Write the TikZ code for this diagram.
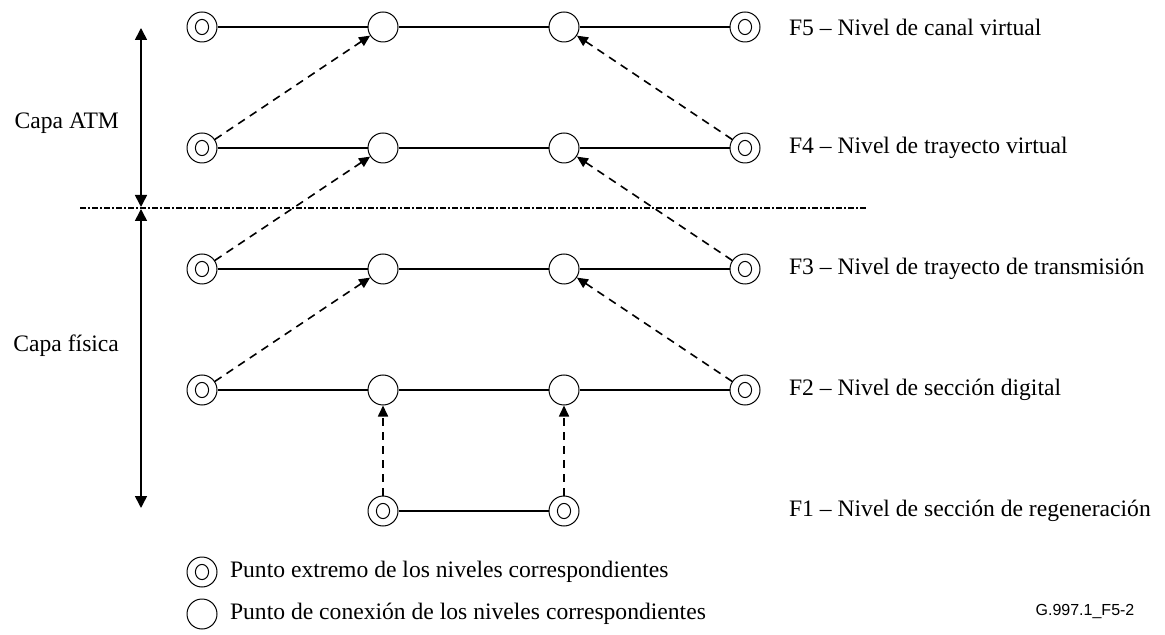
\documentclass[tikz,border=0pt]{standalone}
\usepackage{fontspec}
\setmainfont{Liberation Serif}
\setsansfont{Liberation Sans}
\usepackage{tikz}
\usetikzlibrary{arrows.meta}

\begin{document}
\begin{tikzpicture}[x=0.5pt, y=-0.5pt, font=\fontsize{11.8}{14}\selectfont,
    endpoint/.style={circle, draw, line width=0.5pt, minimum size=15pt, inner sep=0pt,
        path picture={\draw[line width=0.5pt] (path picture bounding box.center) ellipse (3.3pt and 3.8pt);}},
    connpoint/.style={circle, draw, line width=0.5pt, minimum size=15pt, inner sep=0pt},
    layerline/.style={line width=1pt},
    relay/.style={line width=0.8pt, dash pattern=on 4pt off 3pt, -{Triangle[length=5.5pt, width=5pt]}},
    span/.style={line width=0.8pt, {Triangle[length=6pt, width=6pt]}-{Triangle[length=6pt, width=6pt]}},
    levelname/.style={anchor=west}]
    \useasboundingbox (0,0) rectangle (1165,635);

    % F5 level
    \node[endpoint] (fiveL) at (202,27) {};
    \node[connpoint] (fiveA) at (383,27) {};
    \node[connpoint] (fiveB) at (564,27) {};
    \node[endpoint] (fiveR) at (745,27) {};
    \draw[layerline] (fiveL) -- (fiveA) -- (fiveB) -- (fiveR);
    \node[levelname] (fivetext) at (782,27) {F5 – Nivel de canal virtual};

    % F4 level
    \node[endpoint] (fourL) at (202,148) {};
    \node[connpoint] (fourA) at (383,148) {};
    \node[connpoint] (fourB) at (564,148) {};
    \node[endpoint] (fourR) at (745,148) {};
    \draw[layerline] (fourL) -- (fourA) -- (fourB) -- (fourR);
    \node[levelname] (fourtext) at (782,148) {F4 – Nivel de trayecto virtual};

    % F3 level
    \node[endpoint] (threeL) at (202,269) {};
    \node[connpoint] (threeA) at (383,269) {};
    \node[connpoint] (threeB) at (564,269) {};
    \node[endpoint] (threeR) at (745,269) {};
    \draw[layerline] (threeL) -- (threeA) -- (threeB) -- (threeR);
    \node[levelname] (threetext) at (782,269) {F3 – Nivel de trayecto de transmisión};

    % F2 level
    \node[endpoint] (twoL) at (202,390) {};
    \node[connpoint] (twoA) at (383,390) {};
    \node[connpoint] (twoB) at (564,390) {};
    \node[endpoint] (twoR) at (745,390) {};
    \draw[layerline] (twoL) -- (twoA) -- (twoB) -- (twoR);
    \node[levelname] (twotext) at (782,390) {F2 – Nivel de sección digital};

    % F1 level
    \node[endpoint] (oneL) at (383,511) {};
    \node[endpoint] (oneR) at (564,511) {};
    \draw[layerline] (oneL) -- (oneR);
    \node[levelname] (onetext) at (782,511) {F1 – Nivel de sección de regeneración};

    % relations between levels
    \draw[relay] (fourL) -- (fiveA);
    \draw[relay] (fourR) -- (fiveB);
    \draw[relay] (threeL) -- (fourA);
    \draw[relay] (threeR) -- (fourB);
    \draw[relay] (twoL) -- (threeA);
    \draw[relay] (twoR) -- (threeB);
    \draw[relay] (oneL) -- (twoA);
    \draw[relay] (oneR) -- (twoB);

    % layers
    \coordinate (sepL) at (80,208);
    \coordinate (sepR) at (868,208);
    \draw[line width=0.7pt, dash pattern=on 3pt off 1pt on 1pt off 1pt] (sepL) -- (sepR);
    \coordinate (atmtop) at (141,28);
    \coordinate (atmbot) at (141,207);
    \coordinate (phytop) at (141,209);
    \coordinate (phybot) at (141,508);
    \draw[span] (atmtop) -- (atmbot);
    \draw[span] (phytop) -- (phybot);
    \node[anchor=east] (atm) at (126,123) {Capa ATM};
    \node[anchor=east] (phy) at (126,346) {Capa física};

    % legend
    \node[endpoint] (keyend) at (202,572) {};
    \node[levelname] (keyendtext) at (223,572) {Punto extremo de los niveles correspondientes};
    \node[connpoint] (keyconn) at (202,614) {};
    \node[levelname] (keyconntext) at (223,614) {Punto de conexión de los niveles correspondientes};
    \node[font=\sffamily\fontsize{8}{10}\selectfont] (figid) at (1085,612) {G.997.1\_F5-2};
\end{tikzpicture}
\end{document}
